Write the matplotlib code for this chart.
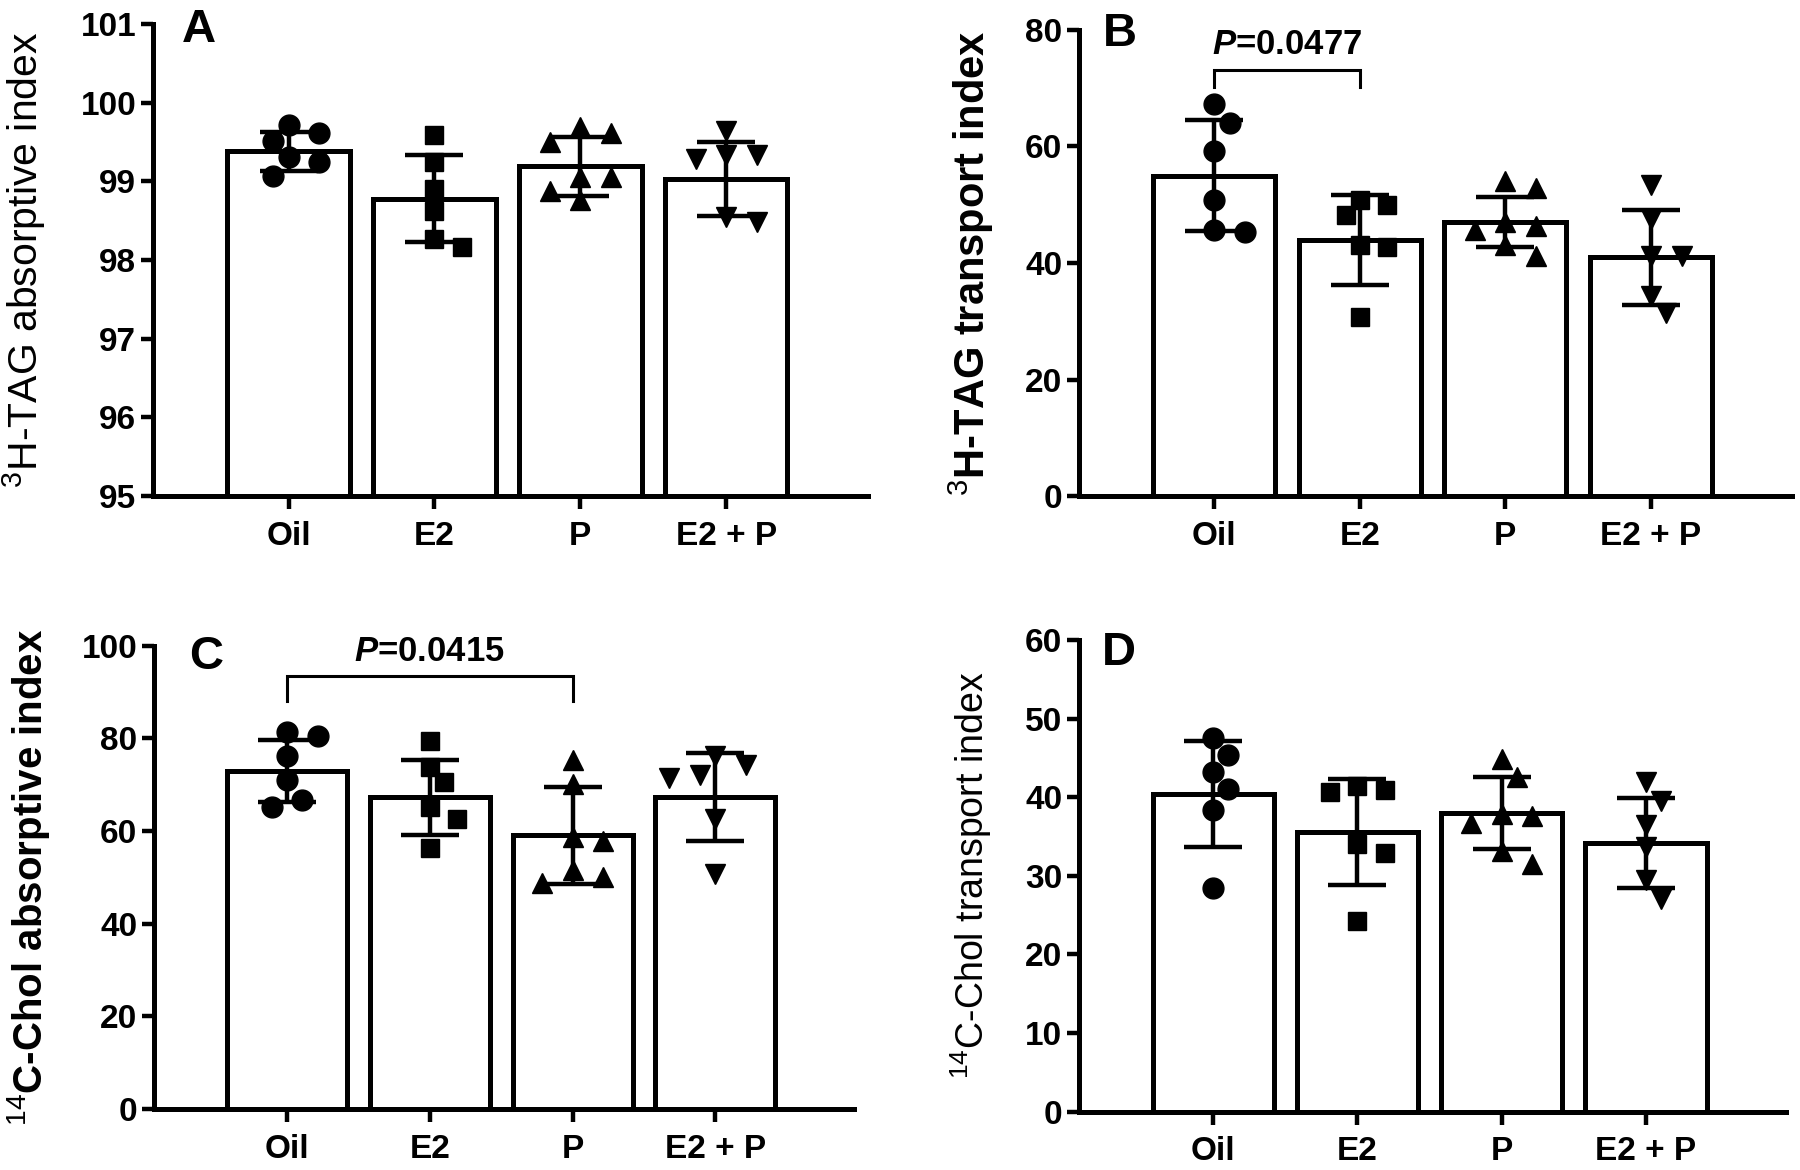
import numpy as np
import matplotlib
matplotlib.use("Agg")
import matplotlib.pyplot as plt

plt.rcParams['font.family'] = ['Liberation Sans', 'DejaVu Sans']
plt.rcParams['mathtext.fontset'] = 'custom'
plt.rcParams['mathtext.rm'] = 'Liberation Sans'
plt.rcParams['mathtext.it'] = 'Liberation Sans:italic:bold'
plt.rcParams['mathtext.bf'] = 'Liberation Sans:bold'

groups = ['Oil', 'E2', 'P', 'E2 + P']

# Panel A: 3H-TAG absorptive index
a_mean = [99.38, 98.78, 99.19, 99.03]
a_sd = [0.25, 0.55, 0.37, 0.47]
a_oil = [99.71, 99.61, 99.51, 99.31, 99.24, 99.07]
a_e2 = [99.59, 99.24, 98.90, 98.62, 98.27, 98.17]
a_p = [99.69, 99.62, 99.50, 99.05, 99.05, 98.88, 98.76]
a_e2p = [99.64, 99.33, 99.33, 99.28, 98.55, 98.48]

# Panel B: 3H-TAG transport index
b_mean = [55.0, 43.9, 47.1, 41.0]
b_sd = [9.5, 7.7, 4.3, 8.15]
b_oil = [67.3, 64.1, 59.2, 50.8, 45.7, 45.4]
b_e2 = [50.8, 49.9, 48.3, 43.1, 42.8, 30.8]
b_p = [54.1, 52.8, 47.0, 46.3, 45.7, 43.1, 41.2]
b_e2p = [53.4, 47.6, 41.2, 41.2, 34.4, 31.5]

# Panel C: 14C-Chol absorptive index
c_mean = [72.9, 67.3, 59.1, 67.3]
c_sd = [6.7, 8.15, 10.45, 9.5]
c_oil = [81.3, 80.6, 76.2, 71.0, 66.7, 65.1]
c_e2 = [79.4, 73.8, 70.6, 65.1, 62.7, 56.3]
c_p = [75.4, 70.2, 58.7, 57.9, 51.6, 50.0, 48.8]
c_e2p = [76.2, 74.2, 72.2, 71.4, 62.7, 50.8]

# Panel D: 14C-Chol transport index
d_mean = [40.4, 35.6, 38.0, 34.2]
d_sd = [6.8, 6.75, 4.6, 5.75]
d_oil = [47.5, 45.4, 43.2, 41.0, 38.4, 28.5]
d_e2 = [41.4, 40.9, 40.7, 34.1, 32.9, 24.2]
d_p = [44.9, 42.6, 37.9, 37.6, 36.7, 33.2, 31.5]
d_e2p = [41.9, 39.5, 36.5, 33.6, 29.4, 27.1]

markers = ['o', 's', '^', 'v']
msizes = [15, 13.5, 15, 15]

panels = [
    dict(rect=[0.085, 0.576, 0.397, 0.4035], ylim=(95, 101), yticks=[95, 96, 97, 98, 99, 100, 101],
         mean=a_mean, sd=a_sd, pts=[a_oil, a_e2, a_p, a_e2p],
         ylabel=r'$^{3}$H-TAG absorptive index', lw='medium', lfs=29.5, lx=-0.147,
         letter='A', lpos=(0.04, 1.034)),
    dict(rect=[0.5994, 0.576, 0.3962, 0.3984], ylim=(0, 80), yticks=[0, 20, 40, 60, 80],
         mean=b_mean, sd=b_sd, pts=[b_oil, b_e2, b_p, b_e2p],
         ylabel=r'$^{3}$H-TAG transport index', lw='bold', lfs=30, lx=-0.116,
         letter='B', lpos=(0.034, 1.039),
         sig=(0, 1, 73.2, 70.2, r'$\mathit{P}$=0.0477')),
    dict(rect=[0.0856, 0.0525, 0.3888, 0.3954], ylim=(0, 100), yticks=[0, 20, 40, 60, 80, 100],
         mean=c_mean, sd=c_sd, pts=[c_oil, c_e2, c_p, c_e2p],
         ylabel=r'$^{14}$C-Chol absorptive index', lw='bold', lfs=29, lx=-0.146,
         letter='C', lpos=(0.05, 1.024),
         sig=(0, 2, 93.5, 88.0, r'$\mathit{P}$=0.0415')),
    dict(rect=[0.5994, 0.050, 0.3928, 0.403], ylim=(0, 60), yticks=[0, 10, 20, 30, 40, 50, 60],
         mean=d_mean, sd=d_sd, pts=[d_oil, d_e2, d_p, d_e2p],
         ylabel=r'$^{14}$C-Chol transport index', lw='medium', lfs=27, lx=-0.12,
         letter='D', lpos=(0.033, 1.02)),
]

fig = plt.figure(figsize=(18, 11.7), dpi=100)


def swarm_offsets(ax, xc, vals, diam_px):
    tr = ax.transData
    inv = tr.inverted()
    placed = []
    xs = []
    cands = [0.0]
    for i in range(1, 12):
        cands += [i * 0.7, -i * 0.7]
    for v in vals:
        px, py = tr.transform((xc, v))
        for c in cands:
            cx = px + c * diam_px
            ok = all((cx - qx) ** 2 + (py - qy) ** 2 >= (0.98 * diam_px) ** 2 for qx, qy in placed)
            if ok:
                break
        placed.append((cx, py))
        xs.append(inv.transform((cx, py))[0])
    return xs


for p in panels:
    ax = fig.add_axes(p['rect'])
    x = np.arange(len(groups))
    ax.set_xlim(-0.93, 3.97)
    ax.set_ylim(*p['ylim'])
    ax.bar(x, np.array(p['mean']) - p['ylim'][0], bottom=p['ylim'][0], width=0.84,
           facecolor='white', edgecolor='black', linewidth=3.6, zorder=2)
    ax.errorbar(x, p['mean'], yerr=p['sd'], fmt='none', ecolor='black', elinewidth=3.2,
                capsize=21, capthick=3.2, zorder=5)
    for i, vals in enumerate(p['pts']):
        xs = swarm_offsets(ax, x[i], vals, msizes[i] * 100 / 72 * 1.05)
        ax.plot(xs, vals, linestyle='none', marker=markers[i], markersize=msizes[i],
                color='black', zorder=4, clip_on=False)
    for s in ['top', 'right']:
        ax.spines[s].set_visible(False)
    for s in ['left', 'bottom']:
        ax.spines[s].set_linewidth(3.6)
    ax.set_yticks(p['yticks'])
    ax.set_xticks(x)
    ax.set_xticklabels(groups)
    ax.tick_params(axis='y', direction='out', length=9, width=3.2, pad=3)
    ax.tick_params(axis='x', direction='out', length=9, width=3.2, pad=9)
    for t in ax.get_yticklabels():
        t.set_fontweight('bold')
        t.set_fontsize(24)
    for t in ax.get_xticklabels():
        t.set_fontweight('bold')
        t.set_fontsize(24)
    ax.set_ylabel(p['ylabel'], fontsize=p['lfs'], fontweight=p['lw'])
    ax.yaxis.set_label_coords(p['lx'], 0.5)
    ax.text(p['lpos'][0], p['lpos'][1], p['letter'], transform=ax.transAxes, fontsize=34,
            fontweight='bold', ha='left', va='top')
    if 'sig' in p:
        i0, i1, ytop, ybot, txt = p['sig']
        ax.plot([i0, i0, i1, i1], [ybot, ytop, ytop, ybot], color='black', lw=2.2,
                solid_joinstyle='miter', zorder=3)
        ax.text((i0 + i1) / 2, ytop + (p['ylim'][1] - p['ylim'][0]) * 0.018, txt,
                ha='center', va='bottom', fontsize=25, fontweight='bold')

fig.savefig('out.png', dpi=100, facecolor='white')
